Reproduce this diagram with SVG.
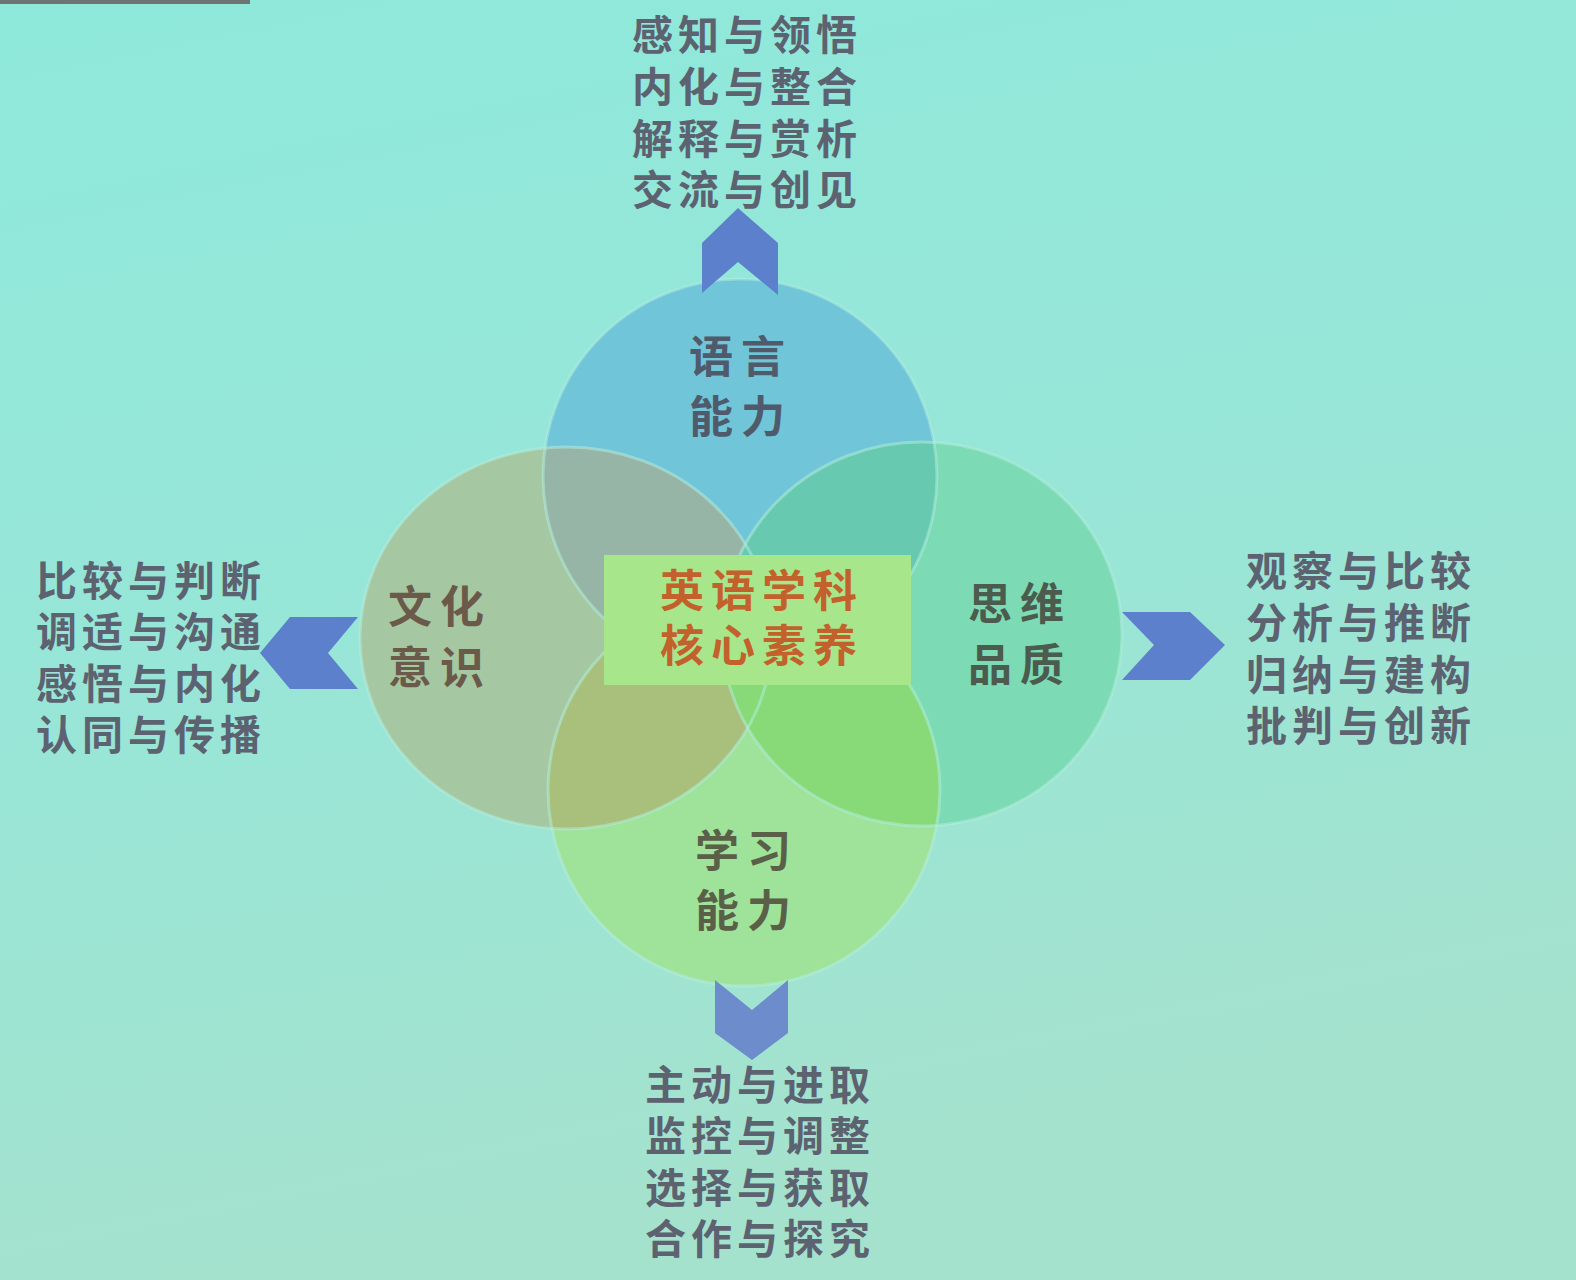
<svg xmlns="http://www.w3.org/2000/svg" width="1576" height="1280" viewBox="0 0 1576 1280">
  <defs>
    <linearGradient id="bg" x1="0" y1="0" x2="0.25" y2="1">
      <stop offset="0" stop-color="#8ee9db"/>
      <stop offset="0.5" stop-color="#97e6d8"/>
      <stop offset="1" stop-color="#a5e2cd"/>
    </linearGradient>
    <ellipse id="cTop" cx="740" cy="476" rx="197" ry="197"/>
    <ellipse id="cLeft" cx="566" cy="638" rx="206" ry="191"/>
    <ellipse id="cRight" cx="922" cy="634" rx="200" ry="192"/>
    <ellipse id="cBottom" cx="744" cy="790" rx="196" ry="196"/>
    <clipPath id="clipTop"><use href="#cTop"/></clipPath>
    <clipPath id="clipBottom"><use href="#cBottom"/></clipPath>
    <style>
      .list { font-family: "Liberation Sans", "Noto Sans CJK SC", sans-serif; font-size: 41px; font-weight: bold; fill: #5c6270; letter-spacing: 5px; text-anchor: middle; }
      .label { font-family: "Liberation Sans", "Noto Sans CJK SC", sans-serif; font-size: 44px; font-weight: bold; letter-spacing: 8px; text-anchor: middle; }
      .core { font-family: "Liberation Sans", "Noto Sans CJK SC", sans-serif; font-size: 44px; font-weight: bold; fill: #c2612c; letter-spacing: 7px; text-anchor: middle; }
      .rim { fill: none; stroke: #b4f0e0; stroke-width: 3; stroke-opacity: 0.5; }
      .chev { fill: #5c80cc; }
    </style>
  </defs>

  <rect x="0" y="0" width="1576" height="1280" fill="url(#bg)"/>
  <rect x="0" y="0" width="250" height="4" fill="#6e7474"/>

  <g id="circles">
    <use href="#cTop" fill="#70c5d9"/>
    <use href="#cBottom" fill="#9fe29a"/>
    <use href="#cLeft" fill="#a5c8a2"/>
    <use href="#cRight" fill="#7cdab4"/>
    <use href="#cLeft" fill="#96b5a7" clip-path="url(#clipTop)"/>
    <use href="#cLeft" fill="#a8c07b" clip-path="url(#clipBottom)"/>
    <use href="#cRight" fill="#68c9b1" clip-path="url(#clipTop)"/>
    <use href="#cRight" fill="#88da79" clip-path="url(#clipBottom)"/>
    <use href="#cTop" class="rim"/>
    <use href="#cBottom" class="rim"/>
    <use href="#cLeft" class="rim"/>
    <use href="#cRight" class="rim"/>
  </g>

  <g id="node-core">
    <rect x="604" y="555" width="307" height="130" fill="#a8e68b"/>
    <text class="core"><tspan x="762" y="607">英语学科</tspan><tspan x="762" y="662">核心素养</tspan></text>
  </g>

  <g id="node-language">
    <text class="label" fill="#4f5b6b"><tspan x="741" y="373">语言</tspan><tspan x="741" y="433">能力</tspan></text>
  </g>
  <g id="node-culture">
    <text class="label" fill="#6b5a4a"><tspan x="440" y="623">文化</tspan><tspan x="440" y="684">意识</tspan></text>
  </g>
  <g id="node-thinking">
    <text class="label" fill="#4b5b4d"><tspan x="1020" y="620">思维</tspan><tspan x="1020" y="681">品质</tspan></text>
  </g>
  <g id="node-learning">
    <text class="label" fill="#5a6048"><tspan x="747" y="867">学习</tspan><tspan x="747" y="927">能力</tspan></text>
  </g>

  <g id="connectors">
    <polygon class="chev" points="702,243 738,208 778,243 778,295 738,262 702,293"/>
    <polygon class="chev" points="260,653 290,617 358,617 328,653 358,689 290,689"/>
    <polygon class="chev" points="1122,612 1190,612 1225,645 1190,680 1122,680 1154,645"/>
    <polygon class="chev" style="fill:#6d8ccc" points="715,980 752,1010 788,980 788,1033 752,1060 715,1033"/>
  </g>

  <g id="list-top">
    <text class="list"><tspan x="747" y="50">感知与领悟</tspan><tspan x="747" y="102">内化与整合</tspan><tspan x="747" y="154">解释与赏析</tspan><tspan x="747" y="205">交流与创见</tspan></text>
  </g>
  <g id="list-left">
    <text class="list"><tspan x="151" y="596">比较与判断</tspan><tspan x="151" y="647">调适与沟通</tspan><tspan x="151" y="699">感悟与内化</tspan><tspan x="151" y="750">认同与传播</tspan></text>
  </g>
  <g id="list-right">
    <text class="list"><tspan x="1361" y="586">观察与比较</tspan><tspan x="1361" y="638">分析与推断</tspan><tspan x="1361" y="690">归纳与建构</tspan><tspan x="1361" y="741">批判与创新</tspan></text>
  </g>
  <g id="list-bottom">
    <text class="list"><tspan x="760" y="1100">主动与进取</tspan><tspan x="760" y="1151">监控与调整</tspan><tspan x="760" y="1203">选择与获取</tspan><tspan x="760" y="1254">合作与探究</tspan></text>
  </g>
</svg>
